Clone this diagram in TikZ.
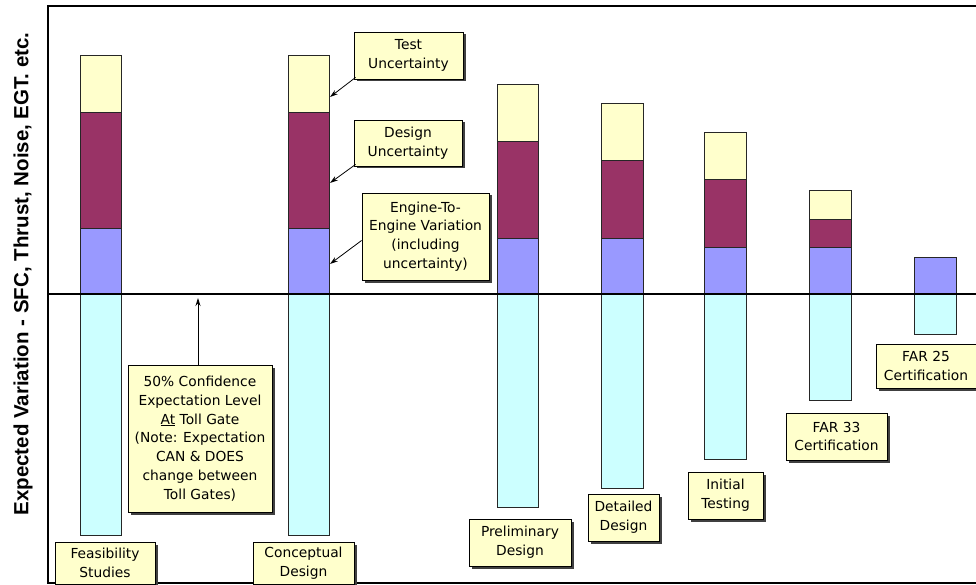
\documentclass[tikz,border=0pt]{standalone}
\usepackage{fontspec}
\setmainfont{DejaVu Sans}
\newfontfamily\axisfont{Liberation Sans}
\usetikzlibrary{arrows.meta,shadows}

\definecolor{cTest}{HTML}{FFFFCC}
\definecolor{cDesign}{HTML}{993366}
\definecolor{cEngine}{HTML}{9999FF}
\definecolor{cBelow}{HTML}{CCFFFF}
\definecolor{cNote}{HTML}{FFFFCC}

\tikzset{
  seg/.style={draw=black!85, line width=0.9pt},
  callout/.style={draw=black, line width=0.9pt, fill=cNote, inner sep=0pt,
    align=center, font=\fontsize{13.8}{18.8}\selectfont,
    drop shadow={shadow xshift=2.5pt, shadow yshift=-2.5pt, fill=black!75, opacity=1}},
  pointer/.style={line width=0.8pt, -{Stealth[length=8pt,width=5pt]}},
  frameline/.style={line width=2.8pt, line cap=rect},
}

\begin{document}
\begin{tikzpicture}[x=1pt, y=-1pt]
  \useasboundingbox (0,0) rectangle (976,585);
  \clip (0,0) rectangle (976,585);

  % stacked bars: test / design / engine-to-engine above the level, spread below it
  \foreach \xl/\xr/\ya/\yb/\yc/\yd in {
      80/121/55/112/228/535,
      288/329/55/112/228/535,
      497/538/84/141/238/507,
      601/643/103/160/238/488,
      704/746/132/179/247/459,
      809/851/190/219/247/400} {
    \draw[seg, fill=cTest]   (\xl,\ya) rectangle (\xr,\yb);
    \draw[seg, fill=cDesign] (\xl,\yb) rectangle (\xr,\yc);
    \draw[seg, fill=cEngine] (\xl,\yc) rectangle (\xr,294);
    \draw[seg, fill=cBelow]  (\xl,294) rectangle (\xr,\yd);
  }
  \draw[seg, fill=cEngine] (914,257) rectangle (956,294);
  \draw[seg, fill=cBelow]  (914,294) rectangle (956,334);

  % expectation level and chart frame
  \draw[frameline] (48,294) -- (980,294);
  \draw[frameline] (980,6) -- (48,6) -- (48,583) -- (980,583);

  % vertical axis title
  \node[rotate=90, font=\axisfont\bfseries\fontsize{20.5}{24}\selectfont]
    (ylabel) at (23,274) {Expected Variation - SFC, Thrust, Noise, EGT. etc.};

  % toll gate labels
  \node[callout, minimum width=100pt, minimum height=42pt] (feas) at (105,563) {Feasibility\\Studies};
  \node[callout, minimum width=101pt, minimum height=42pt] (conc) at (303.5,563) {Conceptual\\Design};
  \node[callout, minimum width=102pt, minimum height=47pt] (prel) at (520,542.5) {Preliminary\\Design};
  \node[callout, minimum width=71pt, minimum height=47pt] (det) at (623.5,517.5) {Detailed\\Design};
  \node[callout, minimum width=75pt, minimum height=47pt] (init) at (725.5,495.5) {Initial\\Testing};
  \node[callout, minimum width=101pt, minimum height=47pt] (far33) at (836.5,436.5) {FAR 33\\Certification};
  \node[callout, minimum width=100pt, minimum height=44pt] (far25) at (926,366) {FAR 25\\Certification};

  % legend callouts
  \node[callout, minimum width=109pt, minimum height=47pt] (test) at (408.5,55.5) {Test\\Uncertainty};
  \node[callout, minimum width=108pt, minimum height=46pt] (design) at (408,143) {Design\\Uncertainty};
  \node[callout, minimum width=127pt, minimum height=87pt] (e2e) at (425.5,236.5)
    {Engine-To-\\Engine Variation\\(including\\uncertainty)};
  \node[callout, minimum width=144pt, minimum height=147pt] (note) at (200,438.5)
    {50\% Confidence\\Expectation Level\\\underline{At} Toll Gate\\(Note: Expectation\\CAN \& DOES\\change between\\Toll Gates)};

  % pointer targets on the conceptual design bar and the level line
  \coordinate (tgtTest) at (330,97);
  \coordinate (tgtDesign) at (330,183);
  \coordinate (tgtEngine) at (330,264);
  \coordinate (tgtLevel) at (198,298);

  \draw[pointer] (test.south west) ++(2,-2) -- (tgtTest);
  \draw[pointer] (design.south west) ++(2,-2) -- (tgtDesign);
  \draw[pointer] (e2e.west) ++(0,4) -- (tgtEngine);
  \draw[pointer] (note.north -| tgtLevel) -- (tgtLevel);
\end{tikzpicture}
\end{document}
